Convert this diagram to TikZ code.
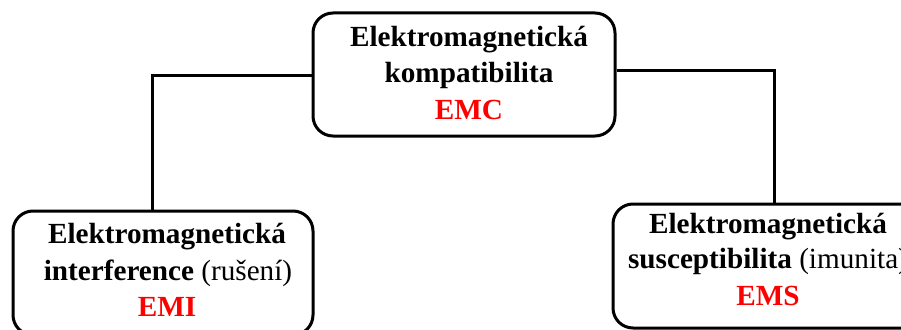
\documentclass[tikz,border=0pt]{standalone}
\usepackage{fontspec}
\setmainfont{Liberation Serif}
\usetikzlibrary{positioning}
\definecolor{emred}{RGB}{255,0,0}
\tikzset{
  box/.style={draw=black, line width=3pt, rounded corners=20pt, fill=white, inner sep=0pt},
  link/.style={draw=black, line width=3pt},
  txt/.style={anchor=base, inner sep=0pt, font=\fontsize{29.2}{34}\selectfont\bfseries},
  abbr/.style={txt, text=emred}
}
\begin{document}
\begin{tikzpicture}[x=1pt,y=-1pt]
  \useasboundingbox (0,0) rectangle (901,329);
  \clip (0,0) rectangle (901,329);
  % boxes
  \node[box, minimum width=302pt, minimum height=123pt] (emc) at (464,74.5) {};
  \node[box, minimum width=300pt, minimum height=124pt] (emi) at (163,273) {};
  \node[box, minimum width=310pt, minimum height=124pt] (ems) at (768,266) {};
  % connectors
  \draw[link] ([yshift=-0.5pt]emc.west) -| ([xshift=-11pt]emi.north);
  \draw[link] ([yshift=4.5pt]emc.east) -| ([xshift=6pt]ems.north);
  % texts of the top box
  \node[txt] (emc1) at (469,47) {Elektromagnetická};
  \node[txt] (emc2) at (469,82) {kompatibilita};
  \node[abbr] (emc3) at (469,119) {EMC};
  % texts of the left box
  \node[txt] (emi1) at (167,243) {Elektromagnetická};
  \node[txt] (emi2) at (168,280) {interference \mdseries(rušení)};
  \node[abbr] (emi3) at (167,316) {EMI};
  % texts of the right box
  \node[txt] (ems1) at (768,233) {Elektromagnetická};
  \node[txt] (ems2) at (768,268) {susceptibilita \mdseries(imunita)};
  \node[abbr] (ems3) at (768,305) {EMS};
\end{tikzpicture}
\end{document}
